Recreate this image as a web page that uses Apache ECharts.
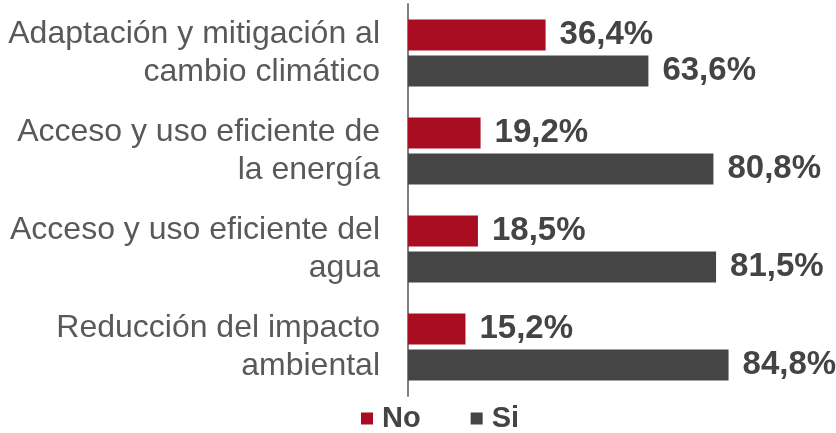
<!DOCTYPE html>
<html>
<head>
<meta charset="utf-8">
<script src="https://cdn.jsdelivr.net/npm/echarts@6/dist/echarts.min.js"></script>
<style>
  html, body { margin: 0; padding: 0; background: #fff; }
  #chart { width: 836px; height: 433px; }
</style>
</head>
<body>
<div id="chart"></div>
<script>
const categories = [
    'Adaptación y mitigación al\ncambio climático',
    'Acceso y uso eficiente de\nla energía',
    'Acceso y uso eficiente del\nagua',
    'Reducción del impacto\nambiental'
];
const noValues = [36.4, 19.2, 18.5, 15.2];
const siValues = [63.6, 80.8, 81.5, 84.8];

const font = "'Liberation Sans', Arial, sans-serif";
const fmt = p => p.value.toFixed(1).replace('.', ',') + '%';

const chart = echarts.init(document.getElementById('chart'));

const valueLabel = {
    show: true,
    position: 'right',
    distance: 14,
    formatter: fmt,
    color: '#444',
    fontFamily: font,
    fontWeight: 'bold',
    fontSize: 33
};

chart.setOption({
    animation: false,
    legend: {
        data: ['No', 'Si'],
        left: 356,
        top: 399,
        icon: 'rect',
        itemWidth: 12,
        itemHeight: 12,
        itemGap: 50,
        textStyle: {
            fontFamily: font,
            fontWeight: 'bold',
            fontSize: 29,
            color: '#444',
            padding: [0, 0, 0, 4]
        }
    },
    grid: {
        left: 408,
        right: 50,
        top: 4,
        bottom: 37
    },
    xAxis: {
        type: 'value',
        min: 0,
        max: 100,
        show: false
    },
    yAxis: {
        type: 'category',
        data: categories,
        inverse: true,
        axisLine: { show: true, lineStyle: { color: '#7f7f7f', width: 2 } },
        axisTick: { show: false },
        axisLabel: {
            margin: 28,
            align: 'right',
            fontFamily: font,
            fontSize: 32,
            lineHeight: 38,
            color: '#595959'
        }
    },
    series: [
        {
            name: 'No',
            type: 'bar',
            data: noValues,
            barWidth: 31,
            barGap: '16%',
            itemStyle: { color: '#a80d22' },
            label: valueLabel
        },
        {
            name: 'Si',
            type: 'bar',
            data: siValues,
            barWidth: 31,
            barGap: '16%',
            itemStyle: { color: '#454545' },
            label: valueLabel
        }
    ]
});
</script>
</body>
</html>
